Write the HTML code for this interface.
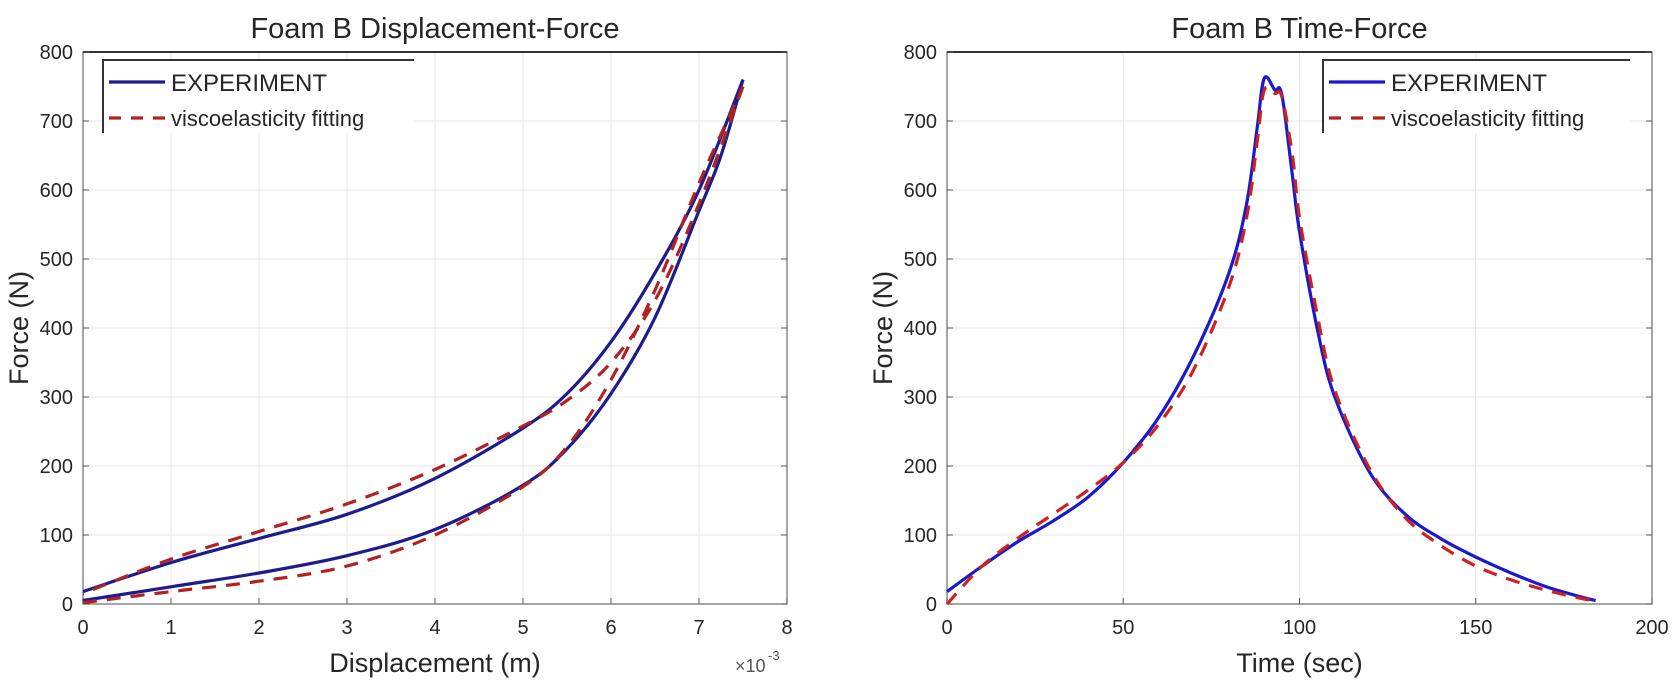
<!DOCTYPE html>
<html><head><meta charset="utf-8"><style>
html,body{margin:0;padding:0;background:#fff;}
svg{display:block;font-family:"Liberation Sans",sans-serif;}
</style></head><body>
<svg id="s" width="1673" height="683" viewBox="0 0 1673 683"></svg>
<script>
// Left chart data (displacement x1e-3 m, force N)
const dispLoadExp=[0,1,2,3,4,5,5.5,6,6.5,7,7.25,7.5];
const forceLoadExp=[5,25,45,70,108,172,225,305,415,570,650,760];
const dispUnloadExp=[7.5,7,6.5,6,5.5,5,4,3,2,1,0];
const forceUnloadExp=[760,600,480,380,305,255,182,130,95,60,18];
const dispLoadFit=[0,1,2,3,4,5,5.5,6,6.5,7,7.5];
const forceLoadFit=[2,18,33,55,100,170,228,325,455,610,750];
const dispUnloadFit=[7.5,7,6.5,6,5.5,5,4,3,2,1,0];
const forceUnloadFit=[750,580,440,350,295,258,195,145,105,65,15];
// Right chart data (time s, force N)
const timeExp=[0,10,20,30,40,50,60,70,80,85,88,90,93,95,98,100,105,110,120,130,140,150,160,170,180,184];
const forceTimeExp=[18,55,90,120,155,205,270,360,480,580,690,762,745,738,620,540,400,300,190,130,95,68,45,25,10,5];
const timeFit=[0,10,20,30,40,50,60,70,80,85,88,90,93,95,98,100,105,110,120,130,140,150,160,170,180,184];
const forceTimeFit=[0,55,95,130,165,205,260,340,460,560,670,745,740,735,650,560,420,310,195,125,85,55,35,20,8,5];
const yTicks=[0,100,200,300,400,500,600,700,800];
const xTicksL=[0,1,2,3,4,5,6,7,8];
const xTicksR=[0,50,100,150,200];

const NS="http://www.w3.org/2000/svg";
const svg=document.getElementById('s');
function mk(tag,attrs,parent){const e=document.createElementNS(NS,tag);for(const k in attrs)e.setAttribute(k,attrs[k]);(parent||svg).appendChild(e);return e;}
function txt(x,y,s,size,anchor,parent){const t=mk('text',{x:x,y:y,'font-size':size,'text-anchor':anchor||'middle',fill:'#262626'},parent);t.textContent=s;return t;}
function smooth(P){
  let d='M'+P[0][0].toFixed(1)+','+P[0][1].toFixed(1);
  for(let i=0;i<P.length-1;i++){
    const p0=P[i-1]||P[i],p1=P[i],p2=P[i+1],p3=P[i+2]||P[i+1];
    const c1=[p1[0]+(p2[0]-p0[0])/6,p1[1]+(p2[1]-p0[1])/6];
    const c2=[p2[0]-(p3[0]-p1[0])/6,p2[1]-(p3[1]-p1[1])/6];
    d+=' C'+c1[0].toFixed(1)+','+c1[1].toFixed(1)+' '+c2[0].toFixed(1)+','+c2[1].toFixed(1)+' '+p2[0].toFixed(1)+','+p2[1].toFixed(1);
  }
  return d;
}

function chart(o){
  const g=mk('g',{});
  
  
  const X=v=>o.x0+(v-o.xmin)/(o.xmax-o.xmin)*(o.x1-o.x0);
  const Y=v=>o.y0-(v/800)*(o.y0-o.y1);
  o.xt.forEach(v=>{const l=mk('line',{x1:X(v),x2:X(v),y1:o.y1,y2:o.y0,stroke:'#e6e6e6','stroke-width':1},g);
    });
  yTicks.forEach(v=>{const l=mk('line',{x1:o.x0,x2:o.x1,y1:Y(v),y2:Y(v),stroke:'#e6e6e6','stroke-width':1},g);
    });
  mk('rect',{x:o.x0,y:o.y1,width:o.x1-o.x0,height:o.y0-o.y1,fill:'none',stroke:'#777','stroke-width':1.3},g);
  mk('line',{x1:o.x0,x2:o.x1,y1:o.y1,y2:o.y1,stroke:'#333','stroke-width':2},g);
  o.xt.forEach(v=>{mk('line',{x1:X(v),x2:X(v),y1:o.y0,y2:o.y0-6,stroke:'#555'},g);
    const t=txt(X(v),634,String(v),20,'middle',g);});
  yTicks.forEach(v=>{mk('line',{x1:o.x0,x2:o.x0+6,y1:Y(v),y2:Y(v),stroke:'#555'},g);
    mk('line',{x1:o.x1,x2:o.x1-6,y1:Y(v),y2:Y(v),stroke:'#555'},g);
    const t=txt(o.x0-10,Y(v)+7,String(v),20,'end',g);});
  o.series.forEach(s=>{
    const P=s.xs.map((v,i)=>[X(v),Y(s.ys[i])]);
    const p=mk('path',{d:smooth(P),fill:'none',stroke:s.c,'stroke-width':3.2,'stroke-dasharray':s.dash||'none','stroke-linejoin':'round'},g);
    
  });
  const ti=txt((o.x0+o.x1)/2,38,o.title,29,'middle',g);
  const xl=txt((o.x0+o.x1)/2,672,o.xlabel,27,'middle',g);
  const yl=txt(0,0,'Force (N)',27,'middle',g);yl.setAttribute('transform','translate('+(o.x0-55)+','+((o.y0+o.y1)/2)+') rotate(-90)');
  
  const lg=mk('g',{},g);
  mk('rect',{x:o.lx,y:60,width:o.lw,height:73,fill:'#fff',stroke:'none'},lg);
  mk('polyline',{points:o.lx+','+133+' '+o.lx+','+60+' '+(o.lx+o.lw)+','+60,fill:'none',stroke:'#333','stroke-width':2},lg);
  mk('line',{x1:o.lx+6,x2:o.lx+62,y1:82,y2:82,stroke:o.series[0].c,'stroke-width':3.2},lg);
  mk('line',{x1:o.lx+6,x2:o.lx+62,y1:118,y2:118,stroke:'#b22222','stroke-width':3.2,'stroke-dasharray':'12 10'},lg);
  const e1=txt(o.lx+68,91,'EXPERIMENT',24,'start',lg);
  const e2=txt(o.lx+68,126,'viscoelasticity fitting',22,'start',lg);
  return {X,Y};
}
chart({name:'displacement-force-chart',x0:83,x1:787,y0:604,y1:52,xmin:0,xmax:8,xt:xTicksL,
  title:'Foam B Displacement-Force',xlabel:'Displacement (m)',lx:103,lw:311,
  series:[
   {name:'experiment-loading-line',xs:dispLoadExp,ys:forceLoadExp,c:'#1c1c8c'},
   {name:'experiment-unloading-line',xs:dispUnloadExp,ys:forceUnloadExp,c:'#1c1c8c'},
   {name:'fit-loading-line',xs:dispLoadFit,ys:forceLoadFit,c:'#b22222',dash:'14 10'},
   {name:'fit-unloading-line',xs:dispUnloadFit,ys:forceUnloadFit,c:'#b22222',dash:'14 10'}]});
const em=mk('text',{x:735,y:672,'font-size':18,fill:'#555','text-anchor':'start'});em.textContent='×10';

const ex=mk('text',{x:768,y:660,'font-size':13,fill:'#555'});ex.textContent='-3';

chart({name:'time-force-chart',x0:947,x1:1652,y0:604,y1:52,xmin:0,xmax:200,xt:xTicksR,
  title:'Foam B Time-Force',xlabel:'Time (sec)',lx:1323,lw:307,
  series:[
   {name:'experiment-line',xs:timeExp,ys:forceTimeExp,c:'#1a1acc'},
   {name:'fit-line',xs:timeFit,ys:forceTimeFit,c:'#cc2222',dash:'14 10'}]});
</script>
</body></html>
